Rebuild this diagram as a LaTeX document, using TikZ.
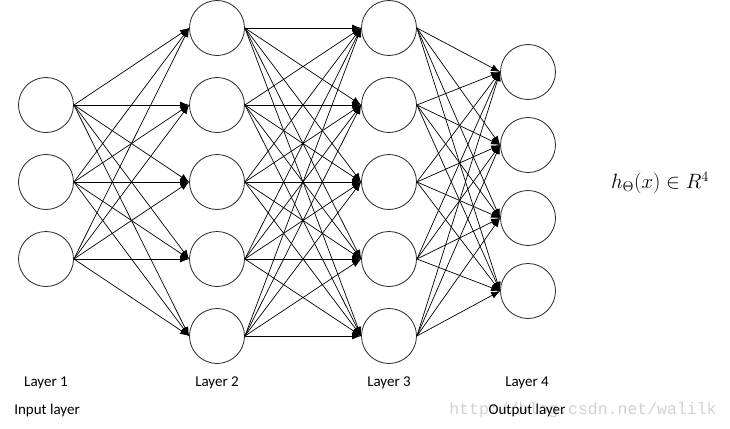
\documentclass[tikz,border=0pt]{standalone}
\usepackage{fontspec}
\setmainfont{Carlito}
\newfontfamily\wmfont{Liberation Mono}
\usetikzlibrary{arrows.meta}

\begin{document}
\begin{tikzpicture}[x=1pt,y=-1pt,
    neuron/.style={circle, draw=black!85, line width=0.8pt, minimum size=55pt, inner sep=0pt},
    synapse/.style={-{Latex[length=9pt,width=7pt]}, line width=0.7pt},
    caption/.style={font=\fontsize{15}{18}\selectfont}]
  \useasboundingbox (0,0) rectangle (730,428);
  % input layer
  \foreach \i/\y in {1/105,2/182,3/259}
    \node[neuron] (a\i) at (46,\y) {};
  % hidden layers
  \foreach \i/\y in {1/28,2/105,3/182,4/259,5/336} {
    \node[neuron] (b\i) at (217,\y) {};
    \node[neuron] (c\i) at (389,\y) {};
  }
  % output layer
  \foreach \i/\y in {1/72,2/145,3/218,4/291}
    \node[neuron] (d\i) at (528,\y) {};
  % connections
  \foreach \i in {1,...,3}
    \foreach \j in {1,...,5}
      \draw[synapse] (a\i.east) -- (b\j.west);
  \foreach \i in {1,...,5}
    \foreach \j in {1,...,5}
      \draw[synapse] (b\i.east) -- (c\j.west);
  \foreach \i in {1,...,5}
    \foreach \j in {1,...,4}
      \draw[synapse] (c\i.east) -- (d\j.west);
  % hypothesis
  \node[font=\fontsize{21}{25}\selectfont] (h) at (660,183) {$h_\Theta(x)\in R^4$};
  % watermark
  \node[text=black!18, font=\wmfont\fontsize{16.5}{19}\selectfont] (wm) at (583,410) {http://blog.csdn.net/walilk};
  % captions
  \node[caption] (l1) at (46,383) {Layer 1};
  \node[caption] (l2) at (217,383) {Layer 2};
  \node[caption] (l3) at (389,383) {Layer 3};
  \node[caption] (l4) at (527,383) {Layer 4};
  \node[caption] (in) at (47,410) {Input layer};
  \node[caption] (out) at (527,410) {Output layer};
\end{tikzpicture}
\end{document}
